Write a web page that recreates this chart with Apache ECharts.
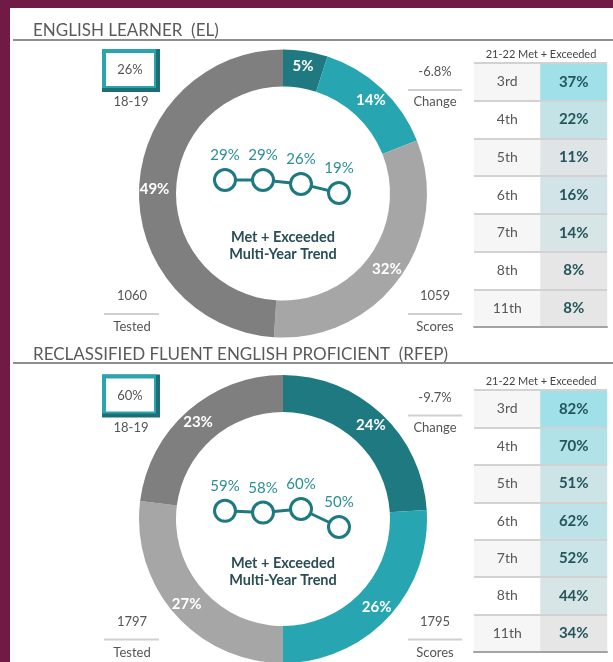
<!DOCTYPE html>
<html><head><meta charset="utf-8">
<script src="https://cdn.jsdelivr.net/npm/echarts@6/dist/echarts.min.js"></script>
<style>html,body{margin:0;padding:0;background:#721a46;}#c{width:613px;height:662px;}</style>
</head><body><div id="c"></div>
<script>
// ---- data ----
const sectionTitles = ['ENGLISH LEARNER  (EL)', 'RECLASSIFIED FLUENT ENGLISH PROFICIENT  (RFEP)'];
const levelNames = ['Standard Exceeded', 'Standard Met', 'Standard Nearly Met', 'Standard Not Met'];
const elLevels = [5, 14, 32, 49];
const rfepLevels = [24, 26, 27, 23];
const trendYears = ['16-17', '17-18', '18-19', '21-22'];
const elTrend = [29, 29, 26, 19];
const rfepTrend = [59, 58, 60, 50];
const baselineYear = '18-19';
const baseline = [26, 60];
const change = [-6.8, -9.7];
const tested = [1060, 1797];
const scores = [1059, 1795];
const grades = ['3rd', '4th', '5th', '6th', '7th', '8th', '11th'];
const elGrades = [37, 22, 11, 16, 14, 8, 8];
const rfepGrades = [82, 70, 51, 62, 52, 44, 34];
const tableTitle = '21-22 Met + Exceeded';
const centerText = 'Met + Exceeded\nMulti-Year Trend';

// ---- styles / layout ----
const FONT = 'Lato, "Open Sans", sans-serif';
const pieColors = ['#1e7a80', '#27a5b0', '#a6a6a6', '#7f7f7f'];
const levels = [elLevels, rfepLevels];
const trends = [elTrend, rfepTrend];
const gradeVals = [elGrades, rfepGrades];
const dys = [0, 325.5];
const titleY = [31, 355];
const ruleY = [40, 363];
const tableTop = [63, 390];
const tableH = [264, 262];
const trendGrid = [{top: 165.7, height: 39, min: 10, max: 40}, {top: 491, height: 54, min: 40, max: 70}];

const grid = [], xAxis = [], yAxis = [], series = [], visualMap = [], graphic = [];
graphic.push({type: 'rect', z: 0, shape: {x: 10, y: 8, width: 603, height: 654}, style: {fill: '#ffffff'}});

function txt(x, y, text, size, color, extra) {
  graphic.push({type: 'text', z: 1, x: x, y: y, style: Object.assign({
    text: text, fontSize: size, fill: color, fontFamily: FONT,
    textAlign: 'center', textVerticalAlign: 'middle'}, extra || {})});
}
function hline(x1, x2, y, color, w) {
  graphic.push({type: 'line', z: 1, shape: {x1: x1, y1: y, x2: x2, y2: y}, style: {stroke: color, lineWidth: w}});
}

for (let s = 0; s < 2; s++) {
  const dy = dys[s];
  const cy = 193.5 + dy;
  // header
  txt(33, titleY[s], sectionTitles[s], 17, '#5a5a5a', {textAlign: 'left'});
  hline(13, 613, ruleY[s], '#8e8e8e', 2);
  // baseline box
  const by = 49 + dy;
  graphic.push({type: 'rect', z: 1, shape: {x: 102, y: by, width: 58, height: 43}, style: {fill: '#1b6f75'}});
  graphic.push({type: 'rect', z: 1, shape: {x: 102, y: by, width: 54, height: 39}, style: {fill: '#2aa4ae'}});
  graphic.push({type: 'rect', z: 1, shape: {x: 106, y: by + 4, width: 48, height: 33}, style: {fill: '#ffffff'}});
  txt(130, by + 21, baseline[s] + '%', 13, '#555555');
  txt(131, 102 + dy, baselineYear, 13, '#555555');
  // change
  txt(435, 72 + dy, change[s].toFixed(1) + '%', 13, '#555555');
  hline(408, 462, 90 + dy, '#d0d0d0', 2);
  txt(435, 102 + dy, 'Change', 13, '#555555');
  // tested / scores
  txt(132, 296 + dy, String(tested[s]), 13, '#555555');
  hline(104, 159, 314 + dy, '#d0d0d0', 2);
  txt(132, 327 + dy, 'Tested', 13, '#555555');
  txt(435, 296 + dy, String(scores[s]), 13, '#555555');
  hline(408, 462, 314 + dy, '#d0d0d0', 2);
  txt(435, 327 + dy, 'Scores', 13, '#555555');
  // center text
  txt(283, 246 + dy, centerText, 14.5, '#2a4d58', {fontWeight: 'bold', lineHeight: 17});
  // table header
  txt(541, tableTop[s] - 8.5, tableTitle, 11, '#444444');

  // pie
  series.push({
    type: 'pie', center: [283, cy], radius: [107, 144], startAngle: 90, clockwise: true,
    silent: true, z: 2,
    label: {position: 'inside', formatter: '{c}%', color: '#ffffff', fontSize: 15, fontWeight: 'bold', fontFamily: FONT},
    labelLine: {show: false},
    emphasis: {disabled: true},
    data: levels[s].map((v, i) => ({name: levelNames[i], value: v, itemStyle: {color: pieColors[i]}}))
  });

  // trend grid
  const tg = trendGrid[s];
  const gi = grid.length;
  grid.push({left: 225, width: 114, top: tg.top, height: tg.height});
  xAxis.push({gridIndex: gi, type: 'category', data: trendYears, boundaryGap: false, show: false});
  yAxis.push({gridIndex: gi, type: 'value', min: tg.min, max: tg.max, show: false});
  series.push({
    type: 'line', xAxisIndex: gi, yAxisIndex: gi, data: trends[s], silent: true, z: 3,
    showSymbol: true, showAllSymbol: true,
    lineStyle: {color: '#1e7a80', width: 3},
    symbol: 'circle', symbolSize: 21,
    itemStyle: {color: '#ffffff', borderColor: '#1e7a80', borderWidth: 3},
    label: {show: true, position: 'top', distance: 5, formatter: '{c}%', color: '#2b8e97', fontSize: 15, fontFamily: FONT},
    labelLayout: {hideOverlap: false},
    emphasis: {disabled: true}
  });

  // table grid
  const ti = grid.length;
  grid.push({left: 474, width: 133, top: tableTop[s], height: tableH[s]});
  xAxis.push({gridIndex: ti, type: 'category', data: ['grade', 'value'], position: 'bottom',
    axisLabel: {show: false}, axisTick: {show: false}, splitLine: {show: false},
    axisLine: {show: true, lineStyle: {color: '#a3a3a3', width: 2}}, z: 6});
  yAxis.push({gridIndex: ti, type: 'category', data: grades, inverse: true,
    axisLabel: {show: false}, axisTick: {show: false}, axisLine: {show: false},
    splitLine: {show: true, lineStyle: {color: '#d2d2d2', width: 2}}, z: 5});
  series.push({
    type: 'heatmap', xAxisIndex: ti, yAxisIndex: ti, silent: true,
    data: grades.map((g, i) => ({value: [0, i, 0], itemStyle: {color: i % 2 ? '#ffffff' : '#f6f6f6'}})),
    label: {show: true, formatter: p => grades[p.value[1]], color: '#585858', fontSize: 14, fontFamily: FONT},
    emphasis: {disabled: true}
  });
  const vals = gradeVals[s];
  visualMap.push({type: 'continuous', show: false, seriesIndex: series.length, dimension: 2,
    min: Math.min(...vals), max: Math.max(...vals), inRange: {color: ['#e6e6e6', '#9fe0e9']}});
  series.push({
    type: 'heatmap', xAxisIndex: ti, yAxisIndex: ti, silent: true,
    data: vals.map((v, i) => [1, i, v]),
    label: {show: true, formatter: p => p.value[2] + '%', color: '#24555c', fontSize: 15, fontWeight: 'bold', fontFamily: FONT},
    emphasis: {disabled: true}
  });
}

const chart = echarts.init(document.getElementById('c'), null, {renderer: 'canvas'});
chart.setOption({
  backgroundColor: '#721a46',
  animation: false,
  textStyle: {fontFamily: FONT},
  grid: grid, xAxis: xAxis, yAxis: yAxis, visualMap: visualMap,
  graphic: graphic,
  series: series
});
</script></body></html>
